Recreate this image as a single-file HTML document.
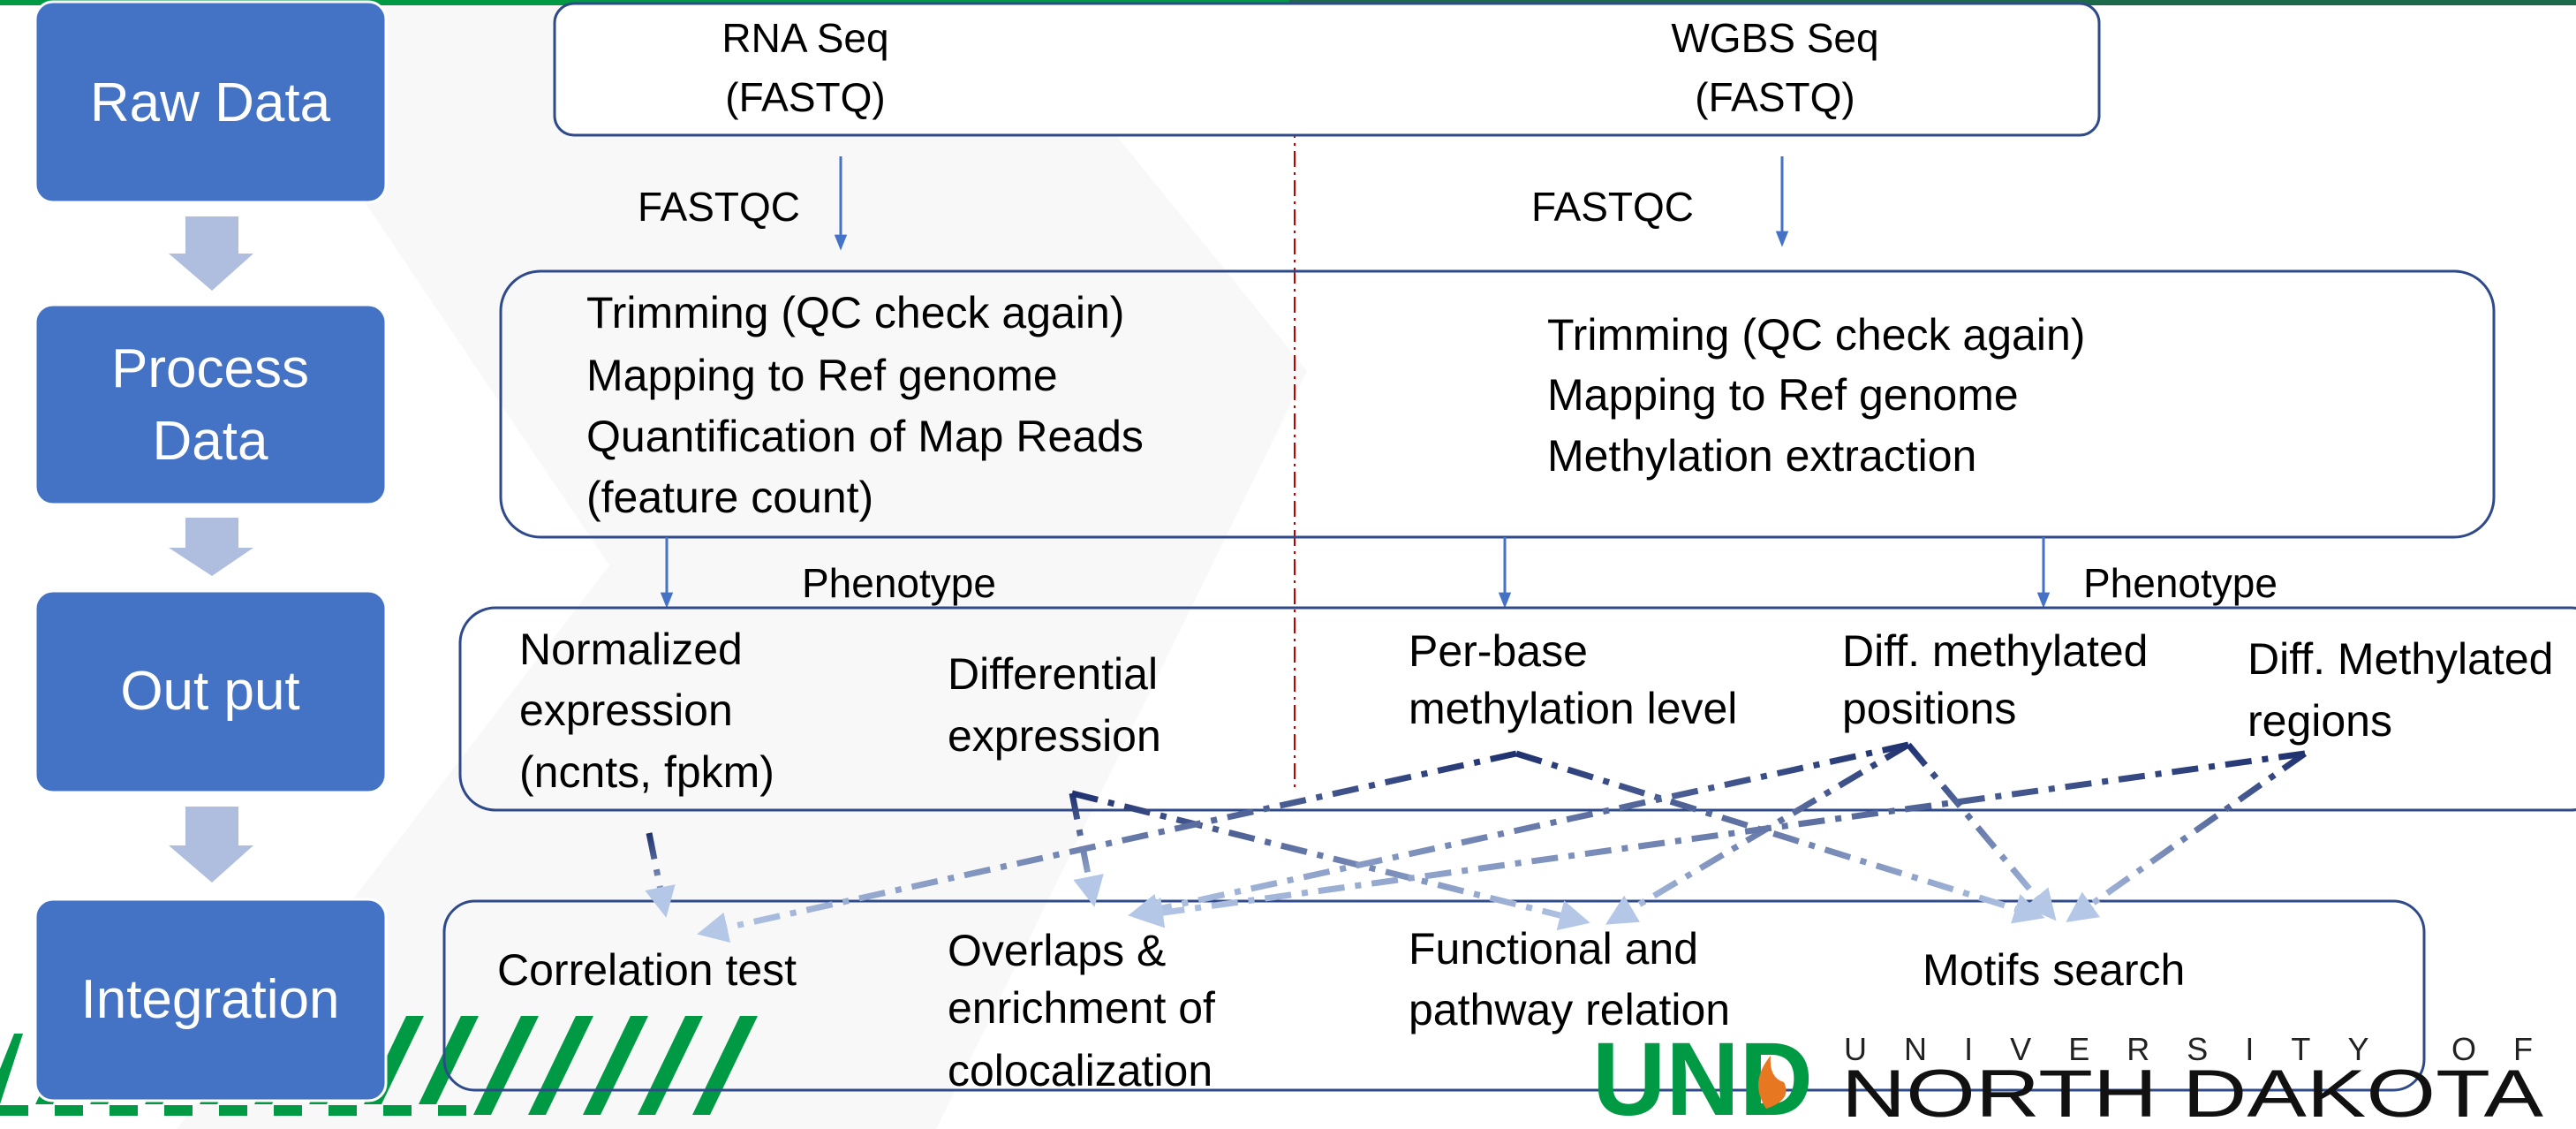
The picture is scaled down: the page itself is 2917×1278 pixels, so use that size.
<!DOCTYPE html>
<html><head><meta charset="utf-8"><style>
html,body{margin:0;padding:0;background:#fff;}
svg{display:block;}
text{font-family:"Liberation Sans",sans-serif;}
</style></head><body>
<svg width="2917" height="1278" viewBox="0 0 2917 1278" xmlns="http://www.w3.org/2000/svg">
<defs>
<marker id="ah" viewBox="0 0 10 10" refX="8" refY="5" markerWidth="5" markerHeight="5" orient="auto"><path d="M0,0 L10,5 L0,10 z" fill="#b4c7e7"/></marker>
<marker id="ab" viewBox="0 0 10 10" refX="8" refY="5" markerWidth="6" markerHeight="6" orient="auto"><path d="M0,1 L10,5 L0,9 z" fill="#4472c4"/></marker>
</defs>
<polygon points="380,0 1140,0 1480,420 1060,1278 200,1278 690,640 380,180" fill="#f8f8f8"/>
<rect x="0" y="0" width="1460" height="6" fill="#009a44"/>
<rect x="1460" y="0" width="1457" height="6" fill="#1d6a4a"/>

<!-- green stripes -->
<g fill="#009a44">
<polygon points="0,1210 0,1250 26,1170 16,1170" />
<polygon points="40,1250 60,1250 108,1150 88,1150"/>
<polygon points="102,1250 122,1250 170,1150 150,1150"/>
<polygon points="164,1250 184,1250 232,1150 212,1150"/>
<polygon points="226,1250 246,1250 294,1150 274,1150"/>
<polygon points="288,1250 308,1250 356,1150 336,1150"/>
<polygon points="350,1250 370,1250 418,1150 398,1150"/>
<polygon points="412,1250 432,1250 480,1150 460,1150"/>
<polygon points="474,1250 494,1250 542,1150 522,1150"/>
<polygon points="536,1262 556,1262 610,1150 590,1150"/>
<polygon points="598,1262 618,1262 672,1150 652,1150"/>
<polygon points="660,1262 680,1262 734,1150 714,1150"/>
<polygon points="722,1262 742,1262 796,1150 776,1150"/>
<polygon points="784,1262 804,1262 858,1150 838,1150"/>
</g>
<line x1="0" y1="1257" x2="530" y2="1257" stroke="#009a44" stroke-width="12" stroke-dasharray="32 30"/>

<!-- left stage boxes -->
<g><rect x="40" y="2" width="397" height="227" rx="20" fill="#4472c4" stroke="#fff" stroke-width="3"/><text x="238" y="137" font-size="62" fill="#fff" text-anchor="middle">Raw Data</text></g>
<g><rect x="40" y="345" width="397" height="226" rx="20" fill="#4472c4" stroke="#fff" stroke-width="3"/><text x="238" y="438" font-size="62" fill="#fff" text-anchor="middle">Process</text><text x="238" y="520" font-size="62" fill="#fff" text-anchor="middle">Data</text></g>
<g><rect x="40" y="669" width="397" height="228" rx="20" fill="#4472c4" stroke="#fff" stroke-width="3"/><text x="238" y="803" font-size="62" fill="#fff" text-anchor="middle">Out put</text></g>
<g><rect x="40" y="1018" width="397" height="228" rx="20" fill="#4472c4" stroke="#fff" stroke-width="3"/><text x="238" y="1152" font-size="62" fill="#fff" text-anchor="middle">Integration</text></g>
<g fill="#afbedf">
<polygon points="210,245 270,245 270,287 287,287 240,329 191,287 210,287"/>
<polygon points="210,586 270,586 270,620 287,620 240,652 191,620 210,620"/>
<polygon points="210,913 270,913 270,957 287,957 240,999 191,957 210,957"/>
</g>

<!-- red divider -->
<line x1="1466" y1="6" x2="1466" y2="893" stroke="#c00000" stroke-width="2" stroke-dasharray="18 6 3 6"/>

<!-- top box -->
<rect x="628" y="4" width="1749" height="149" rx="22" fill="#fff" stroke="#2f4a8a" stroke-width="3"/>
<text x="912" y="59" font-size="46" text-anchor="middle">RNA Seq</text>
<text x="912" y="126" font-size="46" text-anchor="middle">(FASTQ)</text>
<text x="2010" y="59" font-size="46" text-anchor="middle">WGBS Seq</text>
<text x="2010" y="126" font-size="46" text-anchor="middle">(FASTQ)</text>

<text x="722" y="250" font-size="46">FASTQC</text>
<text x="1734" y="250" font-size="46">FASTQC</text>
<line x1="952" y1="177" x2="952" y2="280" stroke="#4472c4" stroke-width="3" marker-end="url(#ab)"/>
<line x1="2018" y1="177" x2="2018" y2="276" stroke="#4472c4" stroke-width="3" marker-end="url(#ab)"/>

<!-- process box -->
<rect x="567" y="307" width="2257" height="301" rx="45" fill="none" stroke="#2f4a8a" stroke-width="3"/>
<g font-size="50">
<text x="664" y="371">Trimming (QC check again)</text>
<text x="664" y="442">Mapping to Ref genome</text>
<text x="664" y="511">Quantification of Map Reads</text>
<text x="664" y="580">(feature count)</text>
</g>
<g font-size="50">
<text x="1752" y="396">Trimming (QC check again)</text>
<text x="1752" y="464">Mapping to Ref genome</text>
<text x="1752" y="533">Methylation extraction</text>
</g>
<g stroke="#4472c4" stroke-width="3">
<line x1="755" y1="608" x2="755" y2="685" marker-end="url(#ab)"/>
<line x1="1704" y1="608" x2="1704" y2="685" marker-end="url(#ab)"/>
<line x1="2314" y1="608" x2="2314" y2="685" marker-end="url(#ab)"/>
</g>
<text x="908" y="676" font-size="46">Phenotype</text>
<text x="2359" y="676" font-size="46">Phenotype</text>

<!-- output box -->
<rect x="521" y="688" width="2430" height="229" rx="40" fill="none" stroke="#2f4a8a" stroke-width="3"/>
<g font-size="50">
<text x="588" y="752">Normalized</text><text x="588" y="821">expression</text><text x="588" y="891">(ncnts, fpkm)</text>
<text x="1073" y="780">Differential</text><text x="1073" y="850">expression</text>
<text x="1595" y="754">Per-base</text><text x="1595" y="819">methylation level</text>
<text x="2086" y="754">Diff. methylated</text><text x="2086" y="819">positions</text>
<text x="2545" y="763">Diff. Methylated</text><text x="2545" y="833">regions</text>
</g>

<!-- integration box -->
<rect x="503" y="1020" width="2242" height="214" rx="35" fill="none" stroke="#2f4a8a" stroke-width="3"/>
<g font-size="50">
<text x="563" y="1115">Correlation test</text>
<text x="1073" y="1093">Overlaps &amp;</text><text x="1073" y="1158">enrichment of</text><text x="1073" y="1229">colocalization</text>
<text x="1595" y="1091">Functional and</text><text x="1595" y="1160">pathway relation</text>
<text x="2177" y="1115">Motifs search</text>
</g>

<!-- connection lines -->
<g id="links" fill="none" stroke-width="7" stroke-dasharray="30 12 7 12" marker-end="url(#ah)"></g>

<!-- logo -->
<g>
<text x="1803" y="1262" font-size="118" font-weight="bold" fill="#009a44" textLength="250" lengthAdjust="spacingAndGlyphs">UND</text>
<path d="M2000,1255 q-20,-30 5,-60 q-2,25 15,30 q10,20 -20,30z" fill="#e87722"/>
<text x="2088" y="1200" font-size="36" fill="#222" textLength="780" lengthAdjust="spacing">UNIVERSITY OF</text>
<text x="2085" y="1264" font-size="76" fill="#111" textLength="795" lengthAdjust="spacingAndGlyphs">NORTH DAKOTA</text>
</g>
</svg>
<script>
var linkFrom=[[735,943],[1214,898],[1214,898],[1717,853],[1717,853],[2161,843],[2161,843],[2161,843],[2610,853],[2610,853]];
var linkTo=[[753,1032],[1238,1020],[1794,1043],[796,1056],[2309,1037],[1284,1035],[1824,1043],[2324,1037],[1289,1037],[2345,1040]];
var g=document.getElementById('links');
var defs=document.querySelector('defs');
var NS='http://www.w3.org/2000/svg';
for(var i=0;i<linkFrom.length;i++){
  var gr=document.createElementNS(NS,'linearGradient');
  gr.setAttribute('id','lg'+i);
  gr.setAttribute('gradientUnits','userSpaceOnUse');
  gr.setAttribute('x1',linkFrom[i][0]);gr.setAttribute('y1',linkFrom[i][1]);
  gr.setAttribute('x2',linkTo[i][0]);gr.setAttribute('y2',linkTo[i][1]);
  gr.innerHTML='<stop offset="0" stop-color="#1f3270"/><stop offset="1" stop-color="#b4c7e7"/>';
  defs.appendChild(gr);
  var l=document.createElementNS(NS,'line');
  l.setAttribute('x1',linkFrom[i][0]);l.setAttribute('y1',linkFrom[i][1]);
  l.setAttribute('x2',linkTo[i][0]);l.setAttribute('y2',linkTo[i][1]);
  l.setAttribute('stroke','url(#lg'+i+')');
  
  
  g.appendChild(l);
}
</script>
</body></html>
